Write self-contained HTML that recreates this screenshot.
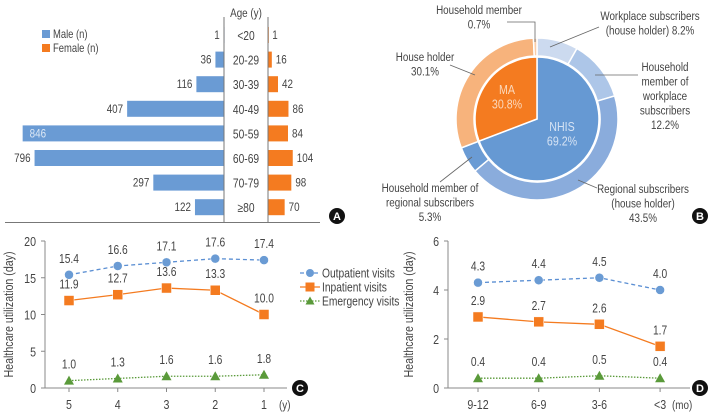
<!DOCTYPE html>
<html><head><meta charset="utf-8">
<style>
html,body{margin:0;padding:0;background:#fff;}
svg{display:block;font-family:"Liberation Sans",sans-serif;}
</style></head>
<body>
<svg id="fig" width="720" height="416" viewBox="0 0 720 416" xmlns="http://www.w3.org/2000/svg"></svg>
<script>
// ---------- Panel A data ----------
const ageGroups = ["<20","20-29","30-39","40-49","50-59","60-69","70-79","≥80"];
const maleCounts = [1,36,116,407,846,796,297,122];
const femaleCounts = [1,16,42,86,84,104,98,70];
// ---------- Panel B data ----------
const innerLabels = ["NHIS","MA"];
const innerShares = [69.2,30.8];
const outerLabels = ["Workplace subscribers (house holder)","Household member of workplace subscribers","Regional subscribers (house holder)","Household member of regional subscribers","House holder","Household member"];
const outerShares = [8.2,12.2,43.5,5.3,30.1,0.7];
// ---------- Panel C data ----------
const yearCats = ["5","4","3","2","1"];
const yearOutpatient = [15.4,16.6,17.1,17.6,17.4];
const yearInpatient = [11.9,12.7,13.6,13.3,10.0];
const yearEmergency = [1.0,1.3,1.6,1.6,1.8];
const yearTicks = [0,5,10,15,20];
// ---------- Panel D data ----------
const monthCats = ["9-12","6-9","3-6","<3"];
const monthOutpatient = [4.3,4.4,4.5,4.0];
const monthInpatient = [2.9,2.7,2.6,1.7];
const monthEmergency = [0.4,0.4,0.5,0.4];
const monthTicks = [0,2,4,6];

const NS="http://www.w3.org/2000/svg";
const svg=document.getElementById('fig');
function mk(tag,attrs,parent,text){const e=document.createElementNS(NS,tag);for(const k in attrs)e.setAttribute(k,attrs[k]);if(text!==undefined)e.textContent=text;(parent||svg).appendChild(e);return e;}
const TXT="#444";

// ===== Panel A =====
const gA=mk('g',{});


const axL=224, axR=268, scaleA=0.238, rowY0=35, rowStep=24.6, barH=16;
function rowY(i){return rowY0+i*rowStep;}
let t=mk('text',{x:246,y:17,'text-anchor':'middle','font-size':12,fill:TXT},gA,"Age (y)");

ageGroups.forEach((g,i)=>{
  const y=rowY(i);
  const mw=maleCounts[i]*scaleA;
  let b=mk('rect',{x:axL-mw,y:y-barH/2,width:Math.max(mw,0.8),height:barH,fill:'#6a9bd4'},gA);
  
  const fw=femaleCounts[i]*scaleA;
  b=mk('rect',{x:axR,y:y-barH/2,width:Math.max(fw,0.8),height:barH,fill:'#f47b20'},gA);
  
  let lt;
  if(mw>196){lt=mk('text',{x:axL-mw+7,y:y+4,'font-size':12,fill:'#dde8f5'},gA,maleCounts[i]);}
  else{lt=mk('text',{x:axL-mw-4,y:y+4,'text-anchor':'end','font-size':12,fill:TXT},gA,maleCounts[i]);}
  
  lt=mk('text',{x:axR+fw+4,y:y+4,'font-size':12,fill:TXT},gA,femaleCounts[i]);
  
  lt=mk('text',{x:246,y:y+5,'text-anchor':'middle','font-size':12.5,fill:TXT},gA,g);
  
});
mk('line',{x1:axL,y1:17,x2:axL,y2:223,stroke:'#777','stroke-width':1},gA);
mk('line',{x1:axR,y1:17,x2:axR,y2:223,stroke:'#777','stroke-width':1},gA);
mk('line',{x1:5,y1:222.5,x2:320,y2:222.5,stroke:'#777','stroke-width':1},gA);
let lg=mk('rect',{x:42,y:30,width:8,height:8,fill:'#6a9bd4'},gA);
lg=mk('text',{x:53,y:38,'font-size':11.5,fill:TXT},gA,"Male (n)");
lg=mk('rect',{x:42,y:44,width:8,height:8,fill:'#f47b20'},gA);
lg=mk('text',{x:53,y:52,'font-size':11.5,fill:TXT},gA,"Female (n)");
function badge(x,y,l){const g=mk('g',{});mk('circle',{cx:x,cy:y,r:8,fill:'#111'},g);mk('text',{x:x,y:y+4,'text-anchor':'middle','font-size':11,'font-weight':'bold',fill:'#fff','class':'badge'},g,l);}
badge(337,216,'A');

// ===== Panel B =====
const gB=mk('g',{});


const cx=537, cy=119, rIn=62, rO1=63, rO2=81;
const innerColors=['#6699d3','#f47b20'];
const outerColors=['#ccdaef','#adc6e8','#8aacdc','#6a9bd4','#f7b37c','#f9cda8'];
function arcPath(r0,r1,a0,a1){
  const p=(r,a)=>[cx+r*Math.sin(a),cy-r*Math.cos(a)];
  const large=(a1-a0)>Math.PI?1:0;
  const [x1,y1]=p(r1,a0),[x2,y2]=p(r1,a1),[x3,y3]=p(r0,a1),[x4,y4]=p(r0,a0);
  if(r0===0)return `M${cx},${cy}L${x1},${y1}A${r1},${r1} 0 ${large} 1 ${x2},${y2}Z`;
  return `M${x1},${y1}A${r1},${r1} 0 ${large} 1 ${x2},${y2}L${x3},${y3}A${r0},${r0} 0 ${large} 0 ${x4},${y4}Z`;
}
let acc=0;
const totO=outerShares.reduce((a,b)=>a+b,0);
outerShares.forEach((s,i)=>{
  const a0=acc/totO*2*Math.PI; acc+=s; const a1=acc/totO*2*Math.PI;
  const p=mk('path',{d:arcPath(rO1,rO2,a0,a1),fill:outerColors[i],stroke:'#fff','stroke-width':1.5},gB);
  
});
acc=0;
const totI=innerShares.reduce((a,b)=>a+b,0);
innerShares.forEach((s,i)=>{
  const a0=acc/totI*2*Math.PI; acc+=s; const a1=acc/totI*2*Math.PI;
  const p=mk('path',{d:arcPath(0,rIn,a0,a1),fill:innerColors[i],stroke:'#fff','stroke-width':1.5},gB);
  
});
function lines(x,y,arr,anchor,col,fs,name){const g=mk('g',{});arr.forEach((s,i)=>mk('text',{x:x,y:y+i*14.5,'text-anchor':anchor,'font-size':fs||12,fill:col||TXT},g,s));}
lines(507,94,[innerLabels[1],innerShares[1].toFixed(1)+'%'],'middle','#fbd9bd',13,'ma-label');
lines(562,131,[innerLabels[0],innerShares[0].toFixed(1)+'%'],'middle','#d6e3f4',13,'nhis-label');
lines(479,14,["Household member",outerShares[5]+"%"],'middle',TXT,12,'household-member-label');
lines(650,20,["Workplace subscribers","(house holder) "+outerShares[0]+"%"],'middle',TXT,12,'workplace-label');
lines(425,61,["House holder",outerShares[4]+"%"],'middle',TXT,12,'house-holder-label');
lines(665,71,["Household","member of","workplace","subscribers",outerShares[1]+"%"],'middle',TXT,12,'workplace-member-label');
lines(430,192,["Household member of","regional subscribers",outerShares[3]+"%"],'middle',TXT,12,'regional-member-label');
lines(643,193,["Regional subscribers","(house holder)",outerShares[2]+"%"],'middle',TXT,12,'regional-label');
[[[507,22],[535,22],[535,42]],[[550,47],[599,27]],[[450,65],[475,75]],[[595,75],[638,75]],[[472,157],[440,182]],[[578,180],[597,188]]].forEach((pts,i)=>{
  const l=mk('polyline',{points:pts.map(p=>p.join(',')).join(' '),fill:'none',stroke:'#666','stroke-width':0.8},gB);
  
});
badge(700,216,'B');

// ===== Line panels =====
function linePanel(opts){
  const g=mk('g',{});
  
  
  const {x0,x1,y0,y1,ymax,cats,xs}=opts;
  const Y=v=>y0-(v/ymax)*(y0-y1);
  const X=i=>xs[0]+i*(xs[1]-xs[0]);
  mk('line',{x1:x0,y1:y1,x2:x0,y2:y0,stroke:'#888'},g);
  mk('line',{x1:x0,y1:y0,x2:x1,y2:y0,stroke:'#888'},g);
  opts.ticks.forEach(v=>{
    mk('line',{x1:x0-4,y1:Y(v),x2:x0,y2:Y(v),stroke:'#888'},g);
    const tt=mk('text',{x:x0-9,y:Y(v)+5,'text-anchor':'end','font-size':13,fill:TXT},g,v);
    
  });
  cats.forEach((c,i)=>{
    mk('line',{x1:X(i),y1:y0,x2:X(i),y2:y0+4,stroke:'#888'},g);
    const tt=mk('text',{x:X(i),y:y0+21,'text-anchor':'middle','font-size':13,fill:TXT},g,c);
    
  });
  const u=mk('text',{x:opts.unitX,y:y0+21,'text-anchor':'start','font-size':12,fill:TXT},g,opts.unit);
  
  const yt=mk('text',{x:0,y:0,transform:`translate(${opts.titleX},${(y0+y1)/2}) rotate(-90) scale(0.82,1)`,'text-anchor':'middle','font-size':13,fill:TXT},g,"Healthcare utilization (day)");
  
  const series=[
    {v:opts.out,c:'#5b8fd3',dash:'4,3',m:'circle',n:'outpatient'},
    {v:opts.inp,c:'#f47b20',dash:'',m:'square',n:'inpatient'},
    {v:opts.em,c:'#5a9a3a',dash:'1.5,1.5',m:'tri',n:'emergency'}];
  series.forEach(s=>{
    const pl=mk('polyline',{points:s.v.map((v,i)=>X(i)+','+Y(v)).join(' '),fill:'none',stroke:s.c,'stroke-width':1.3,'stroke-dasharray':s.dash},g);
    
    s.v.forEach((v,i)=>{
      const x=X(i),y=Y(v);let m;
      if(s.m==='circle')m=mk('circle',{cx:x,cy:y,r:4.5,fill:'#6a9bd4',stroke:'#fff','stroke-width':0.5},g);
      else if(s.m==='square')m=mk('rect',{x:x-5,y:y-5,width:10,height:10,fill:'#f47b20',stroke:'#fff','stroke-width':0.5},g);
      else m=mk('polygon',{points:`${x},${y-5} ${x-5},${y+4} ${x+5},${y+4}`,fill:'#5a9a3a'},g);
      
      const lab=mk('text',{x:x,y:y-12,'text-anchor':'middle','font-size':12.5,fill:TXT},g,v.toFixed(1));
      
    });
  });
  return g;
}
linePanel({name:'panel-c-yearly-utilization',x0:45,x1:287,y0:388,y1:241,ymax:20,cats:yearCats,xs:[69,117.75],ticks:yearTicks,out:yearOutpatient,inp:yearInpatient,em:yearEmergency,unit:'(y)',unitX:279,titleX:13});
linePanel({name:'panel-d-monthly-utilization',x0:448,x1:690,y0:388,y1:241,ymax:6,cats:monthCats,xs:[478,538.7],ticks:monthTicks,out:monthOutpatient,inp:monthInpatient,em:monthEmergency,unit:'(mo)',unitX:672,titleX:413});
// legend for C
const gl=mk('g',{});


[['Outpatient visits','#5b8fd3','4,3','circle'],['Inpatient visits','#f47b20','','square'],['Emergency visits','#5a9a3a','1.5,1.5','tri']].forEach((e,i)=>{
  const y=273+i*14;
  const ge=mk('g',{},gl);
  
  
  mk('line',{x1:300,y1:y,x2:320,y2:y,stroke:e[1],'stroke-width':1.3,'stroke-dasharray':e[2]},ge);
  if(e[3]==='circle')mk('circle',{cx:310,cy:y,r:4,fill:'#6a9bd4'},ge);
  else if(e[3]==='square')mk('rect',{x:305.5,y:y-4.5,width:9,height:9,fill:'#f47b20'},ge);
  else mk('polygon',{points:`310,${y-4.5} 305.5,${y+3.5} 314.5,${y+3.5}`,fill:'#5a9a3a'},ge);
  mk('text',{x:322,y:y+4.5,'font-size':12.5,fill:TXT},ge,e[0]);
});
badge(300,388,'C');
badge(700,388,'D');

// condense all non-badge text horizontally (reference uses a condensed face)
document.querySelectorAll('#fig text').forEach(el=>{
  if(el.getAttribute('class')==='badge'||el.hasAttribute('transform'))return;
  const x=el.getAttribute('x'),y=el.getAttribute('y');
  el.setAttribute('transform',`translate(${x},${y}) scale(0.82,1)`);
  el.setAttribute('x',0);el.setAttribute('y',0);
});
</script>
</body></html>
